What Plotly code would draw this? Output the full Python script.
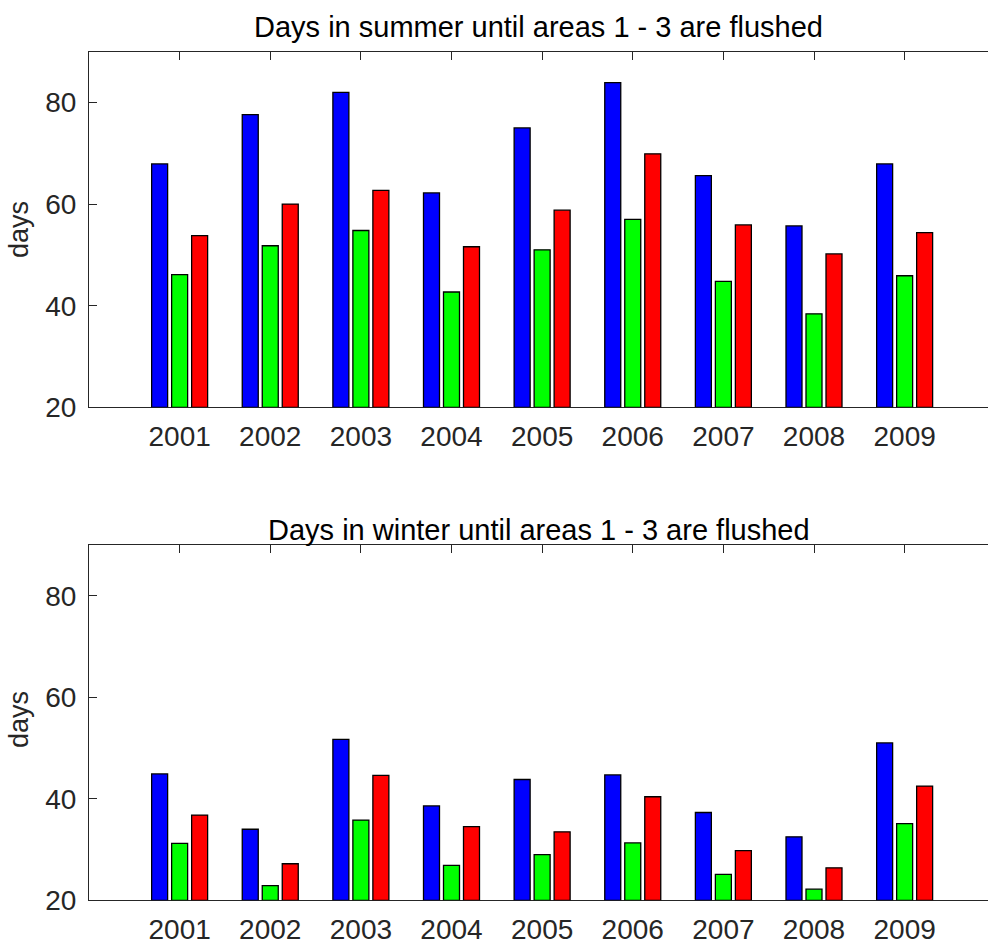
import plotly.graph_objects as go
from plotly.subplots import make_subplots

# Years on the category axis
years = [2001, 2002, 2003, 2004, 2005, 2006, 2007, 2008, 2009]

# Summer: days until each area is flushed
summer_area1 = [67.9, 77.6, 82.0, 62.2, 75.0, 83.9, 65.6, 55.7, 67.9]
summer_area2 = [46.1, 51.8, 54.8, 42.7, 51.0, 57.0, 44.8, 38.4, 45.9]
summer_area3 = [53.8, 60.0, 62.7, 51.6, 58.8, 69.9, 55.9, 50.2, 54.4]

# Winter: days until each area is flushed
winter_area1 = [44.9, 34.0, 51.7, 38.6, 43.8, 44.7, 37.3, 32.5, 51.0]
winter_area2 = [31.2, 22.9, 35.8, 26.9, 29.0, 31.3, 25.1, 22.2, 35.1]
winter_area3 = [36.8, 27.2, 44.6, 34.5, 33.5, 40.4, 29.8, 26.4, 42.5]

titles = ["Days in summer until areas 1 - 3 are flushed",
          "Days in winter until areas 1 - 3 are flushed"]
y_label = "days"

colors = ["#0000FF", "#00FF00", "#FF0000"]
ink = "#262626"
font_family = "Liberation Sans, Arial, Helvetica, sans-serif"

W, H = 988, 945
fig = make_subplots(rows=2, cols=1)

panels = [(summer_area1, summer_area2, summer_area3),
          (winter_area1, winter_area2, winter_area3)]
for row, series in enumerate(panels, start=1):
    for vals, col in zip(series, colors):
        fig.add_trace(go.Bar(
            x=years, y=[v - 20 for v in vals], base=20,
            marker=dict(color=col, line=dict(color="black", width=1.3)),
            showlegend=False, hoverinfo="skip"), row=row, col=1)

# Axis boxes in pixel space (top, bottom), title centre and label centre
boxes = [(51.7, 407.3, 27.3, 230.0), (545.0, 900.3, 529.7, 720.0)]
axis_common = dict(showline=True, linecolor=ink, linewidth=1.2,
                   ticks="inside", ticklen=8, tickcolor=ink, tickwidth=1.2,
                   showgrid=False, zeroline=False, automargin=False,
                   tickfont=dict(family=font_family, size=28, color=ink))

for i, (top, bot, title_y, label_y) in enumerate(boxes, start=1):
    xa = "xaxis" if i == 1 else f"xaxis{i}"
    ya = "yaxis" if i == 1 else f"yaxis{i}"
    fig.layout[xa].update(range=[2000, 2009.92], tickmode="array",
                          tickvals=years, ticktext=[str(y) for y in years],
                          mirror="ticks", layer="below traces",
                          ticklabelstandoff=4, **axis_common)
    fig.layout[ya].update(range=[20, 90], tick0=0, dtick=20,
                          domain=[1 - bot / H, 1 - top / H],
                          ticklabelstandoff=6,
                          layer="below traces", **axis_common)
    fig.add_annotation(text=titles[i - 1], xref="paper", yref="paper",
                       x=0.5, y=1 - title_y / H, xanchor="center",
                       yanchor="middle", showarrow=False,
                       font=dict(family=font_family, size=29, color="black"))
    fig.add_annotation(text=y_label, xref="paper", yref="paper",
                       x=-(89 - 19) / (W - 89), y=1 - label_y / H,
                       xanchor="center", yanchor="middle", textangle=-90,
                       showarrow=False,
                       font=dict(family=font_family, size=27, color=ink))

fig.update_layout(width=W, height=H, barmode="group",
                  bargap=0.338, bargroupgap=0.2,
                  margin=dict(l=89, r=0, t=0, b=0),
                  plot_bgcolor="white", paper_bgcolor="white")

fig.write_html("out.html")
